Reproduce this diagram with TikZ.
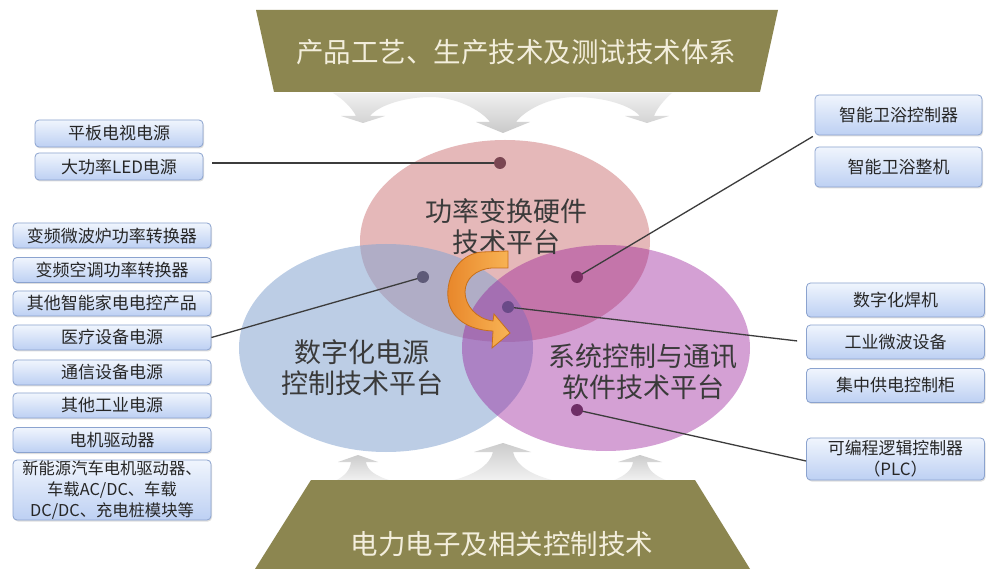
\documentclass[tikz,border=0pt]{standalone}
\usepackage{fontspec}
\setmainfont{Noto Sans CJK SC}
\usetikzlibrary{shadows}
\definecolor{banner}{HTML}{8C8650}
\definecolor{bannertext}{HTML}{F3EEDC}
\definecolor{redc}{HTML}{CD7375}
\definecolor{bluec}{HTML}{85A5D1}
\definecolor{purc}{HTML}{941294}
\definecolor{boxtop}{HTML}{F0F5FD}
\definecolor{boxbot}{HTML}{BDD0F3}
\definecolor{boxborder}{HTML}{8BA3CF}
\definecolor{conncol}{HTML}{3C3C3C}
\definecolor{orangeA}{HTML}{E8862A}
\definecolor{orangeB}{HTML}{F8B455}
\definecolor{orangeD}{HTML}{C8701A}
\definecolor{labeltext}{HTML}{3A3A3A}
\begin{document}
\begin{tikzpicture}[x=1pt,y=-1pt,
  itembox/.style={draw=boxborder, line width=0.8pt, rounded corners=4pt,
    top color=boxtop, bottom color=boxbot,
    drop shadow={shadow xshift=1pt, shadow yshift=-1.5pt, opacity=.25},
    inner sep=0pt, text=black!85, align=center,
    font=\fontsize{17}{20}\selectfont},
  lbox/.style={itembox, minimum width=198pt, minimum height=25pt},
  rbox/.style={itembox, minimum width=178pt, minimum height=34pt},
  platlabel/.style={text=labeltext, align=center, inner sep=0pt,
    font=\fontsize{27}{31}\selectfont},
  bannerlabel/.style={text=bannertext, inner sep=0pt,
    font=\fontsize{27.5}{30}\selectfont},
  dot/.style={circle, inner sep=0pt, minimum size=12pt},
  conn/.style={draw=conncol, line width=1.3pt},
  grayarrows/.style={top color=gray!40, bottom color=gray!10},
]
\useasboundingbox[fill=white] (0,0) rectangle (986,569);

% gray arrows from top banner
\path[top color=gray!12, bottom color=gray!42]
  (333,93) -- (672,93)
  .. controls (665,99) and (657,108) .. (654,116)
  -- (669,116) -- (647,123) -- (625,116) -- (640,116)
  .. controls (628,103) and (598,97) .. (575,97)
  .. controls (550,97) and (525,110) .. (516,122)
  -- (530,122) -- (503,133) -- (476,122) -- (490,122)
  .. controls (481,110) and (456,97) .. (430,97)
  .. controls (408,97) and (380,104) .. (370,116)
  -- (385,116) -- (363,123) -- (341,116) -- (356,116)
  .. controls (352,108) and (343,99) .. (333,93) -- cycle;

% gray arrows up from bottom banner
\path[grayarrows] (335,481) .. controls (345,476) and (350,470) .. (351,462)
  -- (338,462) -- (358,455) -- (378,462) -- (366,462)
  .. controls (367,470) and (375,476) .. (392,481) -- cycle;
\path[grayarrows] (450,481) .. controls (475,475) and (490,465) .. (493,452)
  -- (474,452) -- (503,443) -- (531,452) -- (513,452)
  .. controls (516,465) and (530,475) .. (556,481) -- cycle;
\path[grayarrows] (612,481) .. controls (625,476) and (632,470) .. (633,462)
  -- (618,462) -- (640,455) -- (662,462) -- (647,462)
  .. controls (648,470) and (655,476) .. (668,481) -- cycle;

% banners
\fill[banner] (256,10) -- (778,10) -- (760,92) -- (274,92) -- cycle;
\fill[banner] (311,480) -- (695,480) -- (750,569) -- (255,569) -- cycle;
\node[bannerlabel] (topbanner) at (516,52) {产品工艺、生产技术及测试技术体系};
\node[bannerlabel] (botbanner) at (502,544) {电力电子及相关控制技术};

% platforms
\fill[redc, opacity=.5] (505,241) ellipse [x radius=145, y radius=101];
\fill[bluec, opacity=.55] (386,348) ellipse [x radius=147, y radius=104];
\fill[purc, opacity=.4] (606,348) ellipse [x radius=144, y radius=103];

\node[platlabel] (hw) at (506,227) {功率变换硬件\\技术平台};
\node[platlabel] (dp) at (362,368) {数字化电源\\控制技术平台};
\node[platlabel] (sw) at (643,372) {系统控制与通讯\\软件技术平台};

% orange curved arrow
\draw[orangeD, line width=0.8pt, left color=orangeA, right color=orangeB]
  (508,251) -- (482,252)
  .. controls (458,254) and (446,278) .. (448,298)
  .. controls (450,318) and (468,330) .. (493,331)
  -- (492,348) -- (510,333) -- (494,314) -- (493,321)
  .. controls (476,319) and (465,305) .. (465,292)
  .. controls (465,279) and (476,269) .. (492,268)
  -- (508,268) -- cycle;

% left boxes
\node[lbox, minimum width=168pt, minimum height=27pt] (b1) at (119,133.5) {平板电视电源};
\node[lbox, minimum width=168pt, minimum height=27pt] (b2) at (119,166.5) {大功率LED电源};
\node[lbox] (b3) at (112,235.5) {变频微波炉功率转换器};
\node[lbox] (b4) at (112,270) {变频空调功率转换器};
\node[lbox] (b5) at (112,303.5) {其他智能家电电控产品};
\node[lbox] (b6) at (112,337.5) {医疗设备电源};
\node[lbox] (b7) at (112,372.5) {通信设备电源};
\node[lbox] (b8) at (112,405.5) {其他工业电源};
\node[lbox] (b9) at (112,440) {电机驱动器};
\node[lbox, minimum height=60pt, font=\fontsize{16.3}{21}\selectfont] (b10) at (112,490)
  {新能源汽车电机驱动器、\\车载AC/DC、车载\\DC/DC、充电桩模块等};

% right boxes
\node[rbox, minimum width=167pt, minimum height=40pt] (r1) at (898.5,115) {智能卫浴控制器};
\node[rbox, minimum width=167pt, minimum height=40pt] (r2) at (898.5,167) {智能卫浴整机};
\node[rbox] (r3) at (895.5,300) {数字化焊机};
\node[rbox] (r4) at (895.5,342) {工业微波设备};
\node[rbox] (r5) at (895.5,385.5) {集中供电控制柜};
\node[rbox, minimum height=42pt, font=\fontsize{16.9}{21}\selectfont] (r6) at (895.5,459) {可编程逻辑控制器\\（PLC）};

% dots
\coordinate (c1) at (500,163);
\coordinate (c2) at (423,277);
\coordinate (c3) at (577,277);
\coordinate (c4) at (508,307);
\coordinate (c5) at (577,410);

% connectors
\draw[conn, shorten >=9pt] (c1) -- (c1 -| b2.east);
\draw[conn] (c2) -- (b6.east);
\draw[conn, shorten >=2pt] (c3) -- (r1.south west);
\draw[conn, shorten >=9pt] (c4) -- (r4.west);
\draw[conn] (c5) -- ([yshift=-2pt]r6.west);

\node[dot, fill={rgb,255:red,122;green,70;blue,82}] (d1) at (c1) {};
\node[dot, fill={rgb,255:red,94;green,90;blue,120}] (d2) at (c2) {};
\node[dot, fill={rgb,255:red,122;green,46;blue,98}] (d3) at (c3) {};
\node[dot, fill={rgb,255:red,106;green,74;blue,136}] (d4) at (c4) {};
\node[dot, fill={rgb,255:red,110;green,46;blue,102}] (d5) at (c5) {};
\end{tikzpicture}
\end{document}
